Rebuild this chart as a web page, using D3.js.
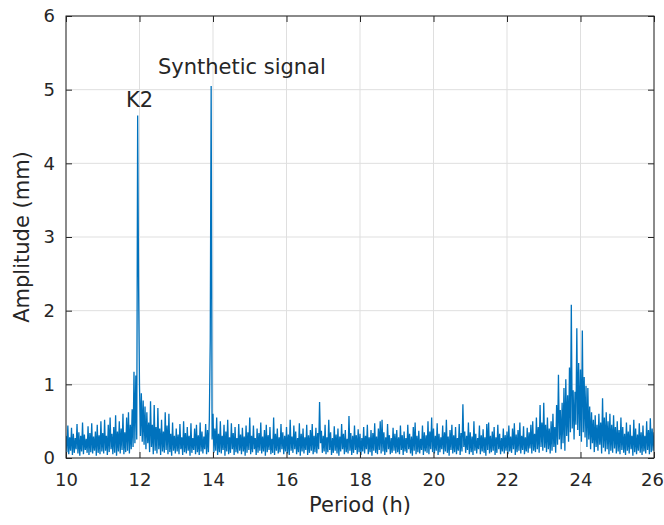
<!DOCTYPE html>
<html lang="en">
<head>
  <meta charset="UTF-8">
  <title>Amplitude spectrum</title>
  <script src="https://d3js.org/d3.v7.min.js"></script>
  <style>
    html, body {
      margin: 0;
      padding: 0;
      background: #fff;
    }
    svg text {
      font-family: "DejaVu Sans", sans-serif;
      fill: #262626;
    }
    .tick text {
      font-size: 18px;
    }
    .axis-label, .note {
      font-size: 21px;
    }
    .grid line {
      stroke: #dfdfdf;
      stroke-width: 1;
    }
    .spectrum {
      fill: none;
      stroke: #0072bd;
      stroke-width: 1.3;
    }
  </style>
</head>
<body>
  <svg width="664" height="525"></svg>
<script type="text/javascript">

// period axis goes 10 -> 26 h, one sample every 0.05 h
const periodStart = 10;
const periodStep = 0.05;

// upper tip of the trace in each 0.05 h bin (mm), one row per hour
const ampHigh = [
  0.30, 0.44, 0.28, 0.41, 0.33, 0.27, 0.46, 0.35, 0.30, 0.48, 0.32, 0.26, 0.43, 0.34, 0.47, 0.29, 0.36, 0.45, 0.31, 0.50,
  0.34, 0.52, 0.30, 0.45, 0.55, 0.33, 0.42, 0.58, 0.36, 0.50, 0.40, 0.60, 0.35, 0.55, 0.62, 0.45, 0.66, 1.17, 1.12, 4.65,
  0.98, 0.88, 0.78, 0.70, 0.62, 0.48, 0.77, 0.45, 0.72, 0.42, 0.68, 0.40, 0.52, 0.36, 0.62, 0.44, 0.60, 0.33, 0.48, 0.30,
  0.40, 0.32, 0.46, 0.28, 0.50, 0.34, 0.42, 0.30, 0.47, 0.27, 0.40, 0.45, 0.31, 0.48, 0.36, 0.29, 0.46, 0.38, 0.52, 5.05,
  0.60, 0.40, 0.55, 0.33, 0.50, 0.30, 0.45, 0.36, 0.52, 0.28, 0.47, 0.34, 0.42, 0.27, 0.46, 0.32, 0.41, 0.29, 0.44, 0.35,
  0.55, 0.30, 0.44, 0.27, 0.40, 0.34, 0.48, 0.29, 0.38, 0.45, 0.31, 0.42, 0.26, 0.55, 0.33, 0.40, 0.28, 0.46, 0.35, 0.30,
  0.42, 0.32, 0.52, 0.29, 0.44, 0.36, 0.27, 0.47, 0.33, 0.40, 0.28, 0.45, 0.31, 0.38, 0.46, 0.30, 0.41, 0.34, 0.76, 0.37,
  0.30, 0.45, 0.28, 0.52, 0.35, 0.27, 0.43, 0.32, 0.40, 0.29, 0.46, 0.33, 0.38, 0.26, 0.57, 0.34, 0.30, 0.44, 0.31, 0.39,
  0.33, 0.27, 0.42, 0.30, 0.45, 0.28, 0.38, 0.34, 0.47, 0.29, 0.40, 0.50, 0.52, 0.35, 0.28, 0.46, 0.31, 0.27, 0.41, 0.33,
  0.38, 0.28, 0.44, 0.31, 0.36, 0.27, 0.45, 0.33, 0.29, 0.42, 0.48, 0.30, 0.37, 0.26, 0.44, 0.35, 0.31, 0.50, 0.36, 0.55,
  0.40, 0.30, 0.47, 0.33, 0.28, 0.44, 0.35, 0.52, 0.29, 0.38, 0.45, 0.31, 0.42, 0.27, 0.46, 0.34, 0.73, 0.36, 0.30, 0.48,
  0.35, 0.29, 0.50, 0.33, 0.27, 0.44, 0.31, 0.39, 0.28, 0.46, 0.48, 0.30, 0.36, 0.42, 0.28, 0.45, 0.33, 0.27, 0.40, 0.31,
  0.36, 0.44, 0.29, 0.40, 0.47, 0.32, 0.38, 0.48, 0.30, 0.43, 0.28, 0.41, 0.35, 0.45, 0.50, 0.33, 0.55, 0.42, 0.72, 0.48,
  0.75, 0.45, 0.55, 0.40, 0.50, 0.60, 0.42, 0.72, 1.13, 0.65, 0.75, 0.95, 1.07, 0.85, 1.23, 2.08, 0.92, 0.90, 1.76, 1.29,
  1.20, 1.73, 1.10, 0.98, 0.95, 0.70, 0.62, 0.52, 0.58, 0.45, 0.60, 0.48, 0.81, 0.55, 0.62, 0.50, 0.60, 0.45, 0.58, 0.42,
  0.50, 0.38, 0.55, 0.42, 0.33, 0.48, 0.36, 0.45, 0.30, 0.52, 0.40, 0.32, 0.47, 0.35, 0.44, 0.30, 0.50, 0.38, 0.54, 0.40,
  0.35
];

// lower tip of the trace, half a bin later
const ampLow = [
  0.08, 0.05, 0.10, 0.04, 0.07, 0.12, 0.06, 0.03, 0.09, 0.05, 0.11, 0.07, 0.04, 0.08, 0.06, 0.10, 0.03, 0.07, 0.05, 0.09,
  0.06, 0.10, 0.04, 0.08, 0.12, 0.05, 0.07, 0.03, 0.09, 0.06, 0.11, 0.05, 0.08, 0.10, 0.06, 0.12, 0.15, 0.20, 0.25, 2.33,
  0.30, 0.22, 0.18, 0.12, 0.20, 0.08, 0.15, 0.05, 0.10, 0.06, 0.12, 0.04, 0.09, 0.07, 0.11, 0.05, 0.08, 0.03, 0.10, 0.06,
  0.09, 0.05, 0.12, 0.04, 0.08, 0.06, 0.10, 0.03, 0.07, 0.11, 0.05, 0.08, 0.04, 0.09, 0.06, 0.12, 0.05, 0.08, 1.60, 0.25,
  0.07, 0.10, 0.04, 0.08, 0.06, 0.11, 0.03, 0.09, 0.05, 0.07, 0.12, 0.04, 0.08, 0.06, 0.10, 0.05, 0.09, 0.03, 0.07, 0.11,
  0.05, 0.08, 0.12, 0.04, 0.07, 0.10, 0.06, 0.09, 0.03, 0.08, 0.11, 0.05, 0.07, 0.04, 0.10, 0.06, 0.08, 0.12, 0.05, 0.09,
  0.06, 0.04, 0.10, 0.07, 0.12, 0.05, 0.08, 0.03, 0.09, 0.06, 0.11, 0.04, 0.07, 0.10, 0.05, 0.08, 0.06, 0.12, 0.20, 0.07,
  0.09, 0.05, 0.08, 0.11, 0.04, 0.07, 0.10, 0.06, 0.03, 0.09, 0.12, 0.05, 0.08, 0.06, 0.10, 0.04, 0.07, 0.11, 0.05, 0.08,
  0.04, 0.09, 0.06, 0.12, 0.05, 0.08, 0.03, 0.10, 0.07, 0.05, 0.11, 0.06, 0.09, 0.04, 0.08, 0.12, 0.05, 0.07, 0.10, 0.06,
  0.08, 0.05, 0.11, 0.04, 0.09, 0.07, 0.12, 0.06, 0.03, 0.10, 0.05, 0.08, 0.06, 0.11, 0.04, 0.09, 0.07, 0.05, 0.12, 0.08,
  0.06, 0.10, 0.04, 0.08, 0.12, 0.05, 0.09, 0.07, 0.03, 0.11, 0.06, 0.08, 0.05, 0.10, 0.04, 0.09, 0.15, 0.07, 0.11, 0.05,
  0.08, 0.04, 0.10, 0.06, 0.12, 0.05, 0.09, 0.07, 0.03, 0.11, 0.06, 0.08, 0.10, 0.04, 0.07, 0.12, 0.05, 0.09, 0.06, 0.10,
  0.05, 0.09, 0.07, 0.12, 0.04, 0.08, 0.10, 0.06, 0.11, 0.05, 0.09, 0.07, 0.13, 0.06, 0.10, 0.08, 0.12, 0.07, 0.15, 0.10,
  0.14, 0.08, 0.12, 0.06, 0.10, 0.15, 0.07, 0.18, 0.25, 0.12, 0.20, 0.10, 0.30, 0.22, 0.35, 0.40, 0.25, 0.45, 0.38, 0.30,
  0.22, 0.35, 0.28, 0.15, 0.25, 0.12, 0.20, 0.08, 0.15, 0.10, 0.18, 0.06, 0.14, 0.09, 0.12, 0.05, 0.10, 0.07, 0.13, 0.06,
  0.09, 0.05, 0.11, 0.07, 0.04, 0.10, 0.06, 0.12, 0.03, 0.08, 0.05, 0.10, 0.07, 0.04, 0.09, 0.06, 0.11, 0.05, 0.08, 0.10,
  0.12
];

const xTicks = [10, 12, 14, 16, 18, 20, 22, 24, 26];
const yTicks = [0, 1, 2, 3, 4, 5, 6];

const notes = [
  { text: "K2", period: 11.63, amp: 4.76 },
  { text: "Synthetic signal", period: 12.50, amp: 5.21 }
];

const svg = d3.select("svg");
const margin = {top: 16, right: 10, bottom: 67, left: 66};
const width = +svg.attr("width") - margin.left - margin.right;
const height = +svg.attr("height") - margin.top - margin.bottom;

const x = d3.scaleLinear().domain([10, 26]).range([0, width]);
const y = d3.scaleLinear().domain([0, 6]).range([height, 0]);

const g = svg.append("g").attr("transform", `translate(${margin.left},${margin.top})`);

// grid first so the trace sits on top
g.append("g").attr("class", "grid")
  .selectAll("line").data(xTicks).join("line")
  .attr("x1", d => x(d)).attr("x2", d => x(d))
  .attr("y1", 0).attr("y2", height);
g.append("g").attr("class", "grid")
  .selectAll("line").data(yTicks).join("line")
  .attr("x1", 0).attr("x2", width)
  .attr("y1", d => y(d)).attr("y2", d => y(d));

g.append("clipPath").attr("id", "plot-clip")
  .append("rect").attr("width", width).attr("height", height);

// zig-zag between high and low tips of each bin
const trace = [];
ampHigh.forEach((hi, i) => {
  const p = periodStart + i * periodStep;
  trace.push([p, hi]);
  trace.push([p + periodStep / 2, ampLow[i]]);
});

const line = d3.line().x(d => x(d[0])).y(d => y(d[1]));

g.append("path")
  .datum(trace)
  .attr("class", "spectrum")
  .attr("clip-path", "url(#plot-clip)")
  .attr("d", line);

// axes with inward ticks on all four sides
const tickLen = 6;
const axBottom = g.append("g").attr("transform", `translate(0,${height})`)
  .call(d3.axisBottom(x).tickValues(xTicks).tickSize(-tickLen).tickPadding(15));
const axLeft = g.append("g")
  .call(d3.axisLeft(y).tickValues(yTicks).tickFormat(d3.format("d")).tickSize(-tickLen).tickPadding(11));
const axTop = g.append("g")
  .call(d3.axisTop(x).tickValues(xTicks).tickSize(-tickLen).tickFormat(""));
const axRight = g.append("g").attr("transform", `translate(${width},0)`)
  .call(d3.axisRight(y).tickValues(yTicks).tickSize(-tickLen).tickFormat(""));

[axBottom, axLeft, axTop, axRight].forEach(a => {
  a.select(".domain").remove();
  a.selectAll(".tick line").attr("stroke", "#262626");
  a.attr("font-family", null).attr("font-size", null);
});

// last period label sits against the page edge
axBottom.selectAll(".tick text").filter(d => d === 26).attr("dx", -2);

g.append("rect")
  .attr("width", width)
  .attr("height", height)
  .attr("fill", "none")
  .attr("stroke", "#262626")
  .attr("stroke-width", 1);

// labels
svg.append("text")
  .attr("class", "axis-label")
  .attr("text-anchor", "middle")
  .attr("x", margin.left + width / 2)
  .attr("y", 512)
  .text("Period (h)");

svg.append("text")
  .attr("class", "axis-label")
  .attr("text-anchor", "middle")
  .attr("transform", `translate(29,${margin.top + height / 2}) rotate(-90)`)
  .text("Amplitude (mm)");

g.selectAll(".note").data(notes).join("text")
  .attr("class", "note")
  .attr("x", d => x(d.period))
  .attr("y", d => y(d.amp))
  .text(d => d.text);

</script>
</body>
</html>
